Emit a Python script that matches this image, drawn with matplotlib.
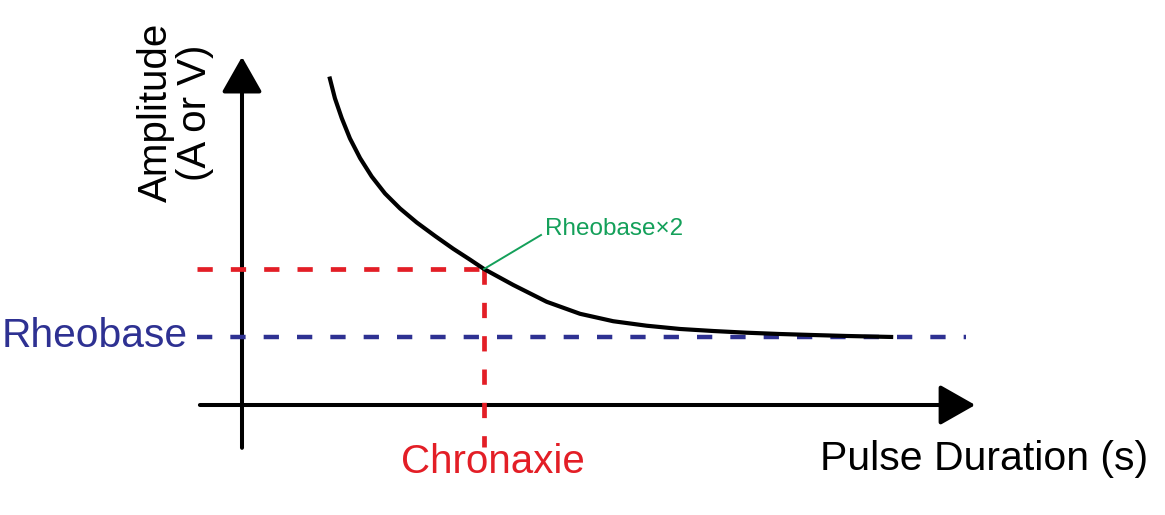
import matplotlib
matplotlib.use("Agg")
import matplotlib.pyplot as plt
from matplotlib.patches import FancyArrowPatch, ArrowStyle

plt.rcParams['font.family'] = ['Liberation Sans', 'DejaVu Sans']
plt.rcParams['lines.scale_dashes'] = False

# strength-duration curve
# (duration in chronaxie units, amplitude in rheobase units)
duration = [0.361, 0.384, 0.412, 0.446, 0.488, 0.536, 0.591, 0.653, 0.722,
            0.798, 0.873, 0.942, 1.0, 1.121, 1.259, 1.397, 1.534, 1.672,
            1.810, 1.948, 2.086, 2.223, 2.361, 2.499, 2.691]
amplitude = [4.83, 4.51, 4.22, 3.92, 3.63, 3.36, 3.11, 2.89, 2.684,
             2.485, 2.297, 2.138, 2.0, 1.765, 1.518, 1.341, 1.232, 1.166,
             1.118, 1.088, 1.063, 1.044, 1.029, 1.015, 1.0]

rheobase = 1.0
chronaxie = 1.0

BLUE = '#2e3192'
RED = '#e31e26'
GREEN = '#14a05a'

W, H = 1165, 515
fig = plt.figure(figsize=(W / 100, H / 100), dpi=100)
ax = fig.add_axes([0, 0, 1, 1])
ax.axis('off')

# origin of the drawing sits at pixel (242, 405); 242 px per chronaxie, 68 px per rheobase
x0, y0, sx, sy = 242, 405, 242, 68
ax.set_xlim(-x0 / sx, (W - x0) / sx)
ax.set_ylim(-(H - y0) / sy, y0 / sy)


def fx(px, py):
    # figure pixel -> figure fraction, for the labels
    return px / W, 1 - py / H


# axes with arrow heads
head = ArrowStyle('-|>', head_length=22, head_width=12.5)
ax.add_patch(FancyArrowPatch((-0.174, 0), (3.03, 0), arrowstyle=head,
                             mutation_scale=1, lw=2.9, color='k',
                             shrinkA=0, shrinkB=0))
ax.add_patch(FancyArrowPatch((0, -0.63), (0, 5.12), arrowstyle=head,
                             mutation_scale=1, lw=2.9, color='k',
                             shrinkA=0, shrinkB=0))

# dashed guides
ax.plot([-0.186, 2.99], [rheobase, rheobase], color=BLUE, lw=3.2,
        dashes=(11, 13), dash_capstyle='butt', zorder=2)
ax.plot([-0.186, chronaxie], [2 * rheobase, 2 * rheobase], color=RED, lw=3.4,
        dashes=(11, 13), zorder=2)
ax.plot([chronaxie, chronaxie], [2 * rheobase, -0.62], color=RED, lw=3.4,
        dashes=(11, 13), zorder=2)

# the curve
ax.plot(duration, amplitude, color='k', lw=3.0, solid_capstyle='butt',
        solid_joinstyle='round', zorder=3)

# leader to the Rheobase x2 label
ax.plot([chronaxie, chronaxie + 57 / sx], [2 * rheobase, 2 * rheobase + 34 / sy],
        color=GREEN, lw=1.4, zorder=4)
fig.text(*fx(545, 235), 'Rheobase\u00d72', color=GREEN, fontsize=17.5,
         ha='left', va='baseline')

fig.text(*fx(188, 347), 'Rheobase', color=BLUE, fontsize=29.3,
         ha='right', va='baseline')
fig.text(*fx(493, 473), 'Chronaxie', color=RED, fontsize=29,
         ha='center', va='baseline')
fig.text(*fx(1148, 470), 'Pulse Duration (s)', color='k', fontsize=29.5,
         ha='right', va='baseline')
fig.text(*fx(167, 112), 'Amplitude', color='k', fontsize=29, rotation=90,
         rotation_mode='anchor', ha='center', va='baseline')
fig.text(*fx(206, 113), '(A or V)', color='k', fontsize=29, rotation=90,
         rotation_mode='anchor', ha='center', va='baseline')

fig.savefig('out.png', dpi=100)
